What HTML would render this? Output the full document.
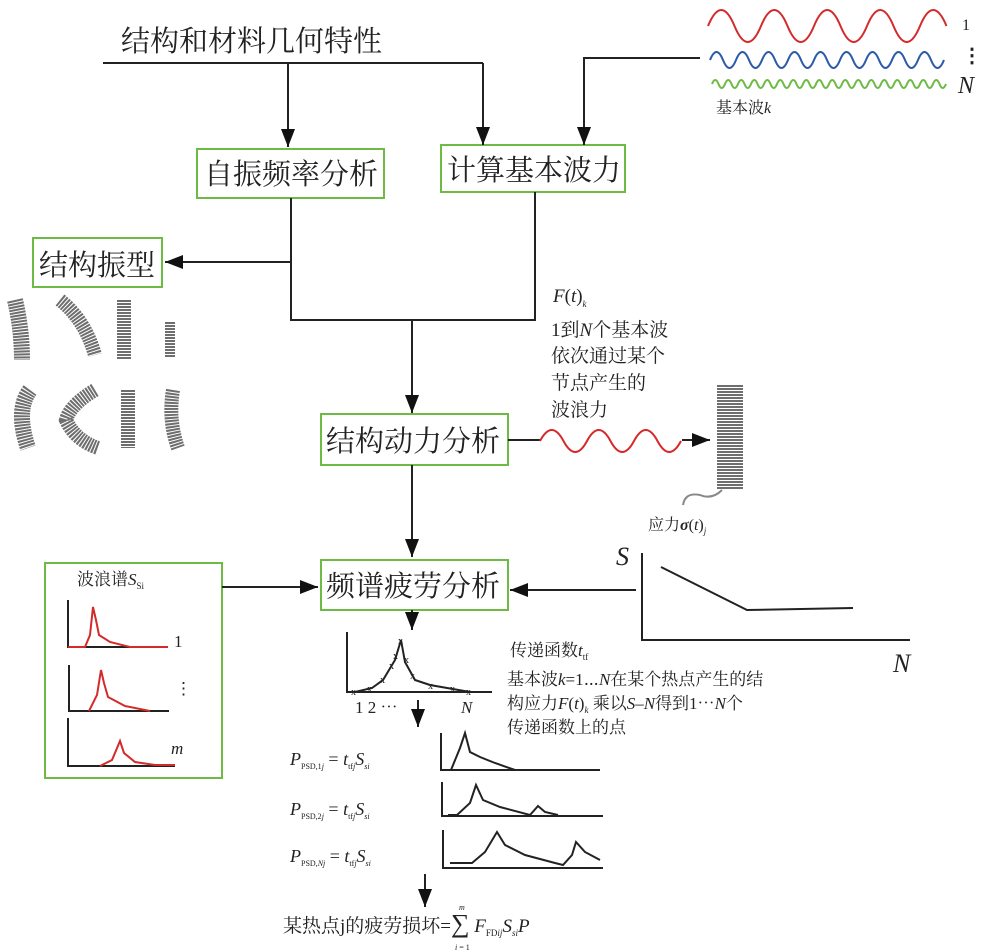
<!DOCTYPE html>
<html><head><meta charset="utf-8"><style>
html,body{margin:0;padding:0;background:#fff;}
svg{display:block;}
text{font-family:"Liberation Serif","Noto Serif CJK SC",serif;fill:#222;}
</style></head><body>
<svg width="984" height="952" viewBox="0 0 984 952" xmlns="http://www.w3.org/2000/svg">
<defs>
<marker id="b" markerWidth="20" markerHeight="14" refX="18" refY="7" orient="auto" markerUnits="userSpaceOnUse"><path d="M0,0 L18,7 L0,14 z" fill="#111"/></marker>
</defs>
<!-- boxes -->
<g fill="none" stroke="#6dbb45" stroke-width="2">
<rect x="197" y="149" width="187" height="49"/>
<rect x="441" y="145" width="184" height="47"/>
<rect x="33" y="238" width="129" height="49"/>
<rect x="321" y="414" width="187" height="51"/>
<rect x="321" y="560" width="187" height="50"/>
<rect x="45" y="563" width="177" height="215"/>
</g>
<g stroke="#222" stroke-width="2" fill="none">
<path d="M103,63 H483"/>
<path d="M288,63 V147" marker-end="url(#b)"/>
<path d="M483,63 V145" marker-end="url(#b)"/>
<path d="M700,58 H584 V145" marker-end="url(#b)"/>
<path d="M291,262 H165" marker-end="url(#b)"/>
<path d="M291,198 V320 H535 V192"/>
<path d="M412,320 V413" marker-end="url(#b)"/>
<path d="M508,440 H540"/>
<path d="M682,440 H710" marker-end="url(#b)"/>
<path d="M412,465 V557" marker-end="url(#b)"/>
<path d="M222,587 H318" marker-end="url(#b)"/>
<path d="M636,590 H510" marker-end="url(#b)"/>
<path d="M412,610 V630" marker-end="url(#b)"/>
<path d="M418,700 V727" marker-end="url(#b)"/>
<path d="M425,874 V907" marker-end="url(#b)"/>
<path d="M642,553 V640 H910"/>
<path d="M661,567 L747,610 L853,608"/>
<path d="M347,632 V692 H492"/>
<path d="M355,692 L372,688 L383,680 L395,660 L401,640 L405,662 L415,680 L430,685 L470,692"/>
<path d="M441,733 V770 H600"/>
<path d="M451,770 L460,748 L465,733 L470,752 L480,757 L495,763 L515,770"/>
<path d="M442,782 V816 H603"/>
<path d="M448,815 L457,815 L470,803 L476,785 L483,800 L500,807 L530,815 L538,806 L545,812 L558,815"/>
<path d="M443,830 V868 H603"/>
<path d="M450,863 L472,863 L485,852 L497,832 L505,845 L525,855 L555,863 L563,865 L572,855 L576,842 L585,852 L600,860"/>
<path d="M68,600 V647 H168"/>
<path d="M69,665 V711 H169"/>
<path d="M68,718 V766 H175"/>
</g>
<g fill="none" stroke="#d42a2a" stroke-width="2">
<path d="M68,647 L85,647 L90,635 L93,607 L96,620 L99,635 L110,642 L130,647 L168,647"/>
<path d="M89,711 L97,695 L101,670 L104,683 L108,697 L125,706 L150,711"/>
<path d="M100,766 L112,760 L120,741 L124,753 L135,762 L155,765 L175,765"/>
<path d="M708,26 q13.25,-32 26.5,0 t26.5,0 t26.5,0 t26.5,0 t26.5,0 t26.5,0 t26.5,0 t26.5,0 t26.5,0"/>
<path d="M540,441 q11.75,-22 23.5,0 t23.5,0 t23.5,0 t23.5,0 t23.5,0 t23.5,0"/>
</g>
<path d="M710,60 q6.5,-16 13,0 t13,0 t13,0 t13,0 t13,0 t13,0 t13,0 t13,0 t13,0 t13,0 t13,0 t13,0 t13,0 t13,0 t13,0 t13,0 t13,0 t13,0" fill="none" stroke="#2a5aa8" stroke-width="2"/>
<path d="M712,84 q3.25,-8 6.5,0 t6.5,0 t6.5,0 t6.5,0 t6.5,0 t6.5,0 t6.5,0 t6.5,0 t6.5,0 t6.5,0 t6.5,0 t6.5,0 t6.5,0 t6.5,0 t6.5,0 t6.5,0 t6.5,0 t6.5,0 t6.5,0 t6.5,0 t6.5,0 t6.5,0 t6.5,0 t6.5,0 t6.5,0 t6.5,0 t6.5,0 t6.5,0 t6.5,0 t6.5,0 t6.5,0 t6.5,0 t6.5,0 t6.5,0 t6.5,0 t6.5,0" fill="none" stroke="#6dbb45" stroke-width="2"/>
<g font-size="10" font-family="Liberation Sans,sans-serif">
<text x="351" y="695" fill="#d42a2a">x</text><text x="367" y="692" fill="#d42a2a">x</text><text x="380" y="683" fill="#d42a2a">x</text><text x="389" y="669" fill="#d42a2a">x</text><text x="393" y="659" fill="#d42a2a">x</text><text x="398" y="644" fill="#d42a2a">x</text><text x="404" y="663" fill="#d42a2a">x</text><text x="410" y="679" fill="#d42a2a">x</text><text x="428" y="689" fill="#d42a2a">x</text><text x="450" y="692" fill="#d42a2a">x</text><text x="466" y="695" fill="#d42a2a">x</text>
</g>
<g font-size="29">
<text x="121" y="51">结构和材料几何特性</text>
<text x="204" y="184">自振频率分析</text>
<text x="447" y="180">计算基本波力</text>
<text x="39" y="275">结构振型</text>
<text x="326" y="451">结构动力分析</text>
<text x="326" y="596">频谱疲劳分析</text>
</g>
<g font-size="19">
<text x="553" y="302"><tspan font-style="italic">F</tspan>(<tspan font-style="italic">t</tspan>)<tspan font-size="9" dy="5" font-style="italic">k</tspan></text>
<text x="551" y="336">1到<tspan font-style="italic">N</tspan>个基本波</text>
<text x="551" y="362">依次通过某个</text>
<text x="551" y="389">节点产生的</text>
<text x="551" y="416">波浪力</text>
<text x="510" y="656" font-size="17">传递函数<tspan font-style="italic">t</tspan><tspan font-size="9" dy="4">tf</tspan></text>
<text x="507" y="685" font-size="17">基本波<tspan font-style="italic">k</tspan>=1⋯<tspan font-style="italic">N</tspan>在某个热点产生的结</text>
<text x="507" y="709" font-size="17">构应力<tspan font-style="italic">F</tspan>(<tspan font-style="italic">t</tspan>)<tspan font-size="9" dy="4" font-style="italic">k</tspan><tspan dy="-4"> 乘以</tspan><tspan font-style="italic">S</tspan>–<tspan font-style="italic">N</tspan>得到1⋯<tspan font-style="italic">N</tspan>个</text>
<text x="507" y="733" font-size="17">传递函数上的点</text>
<text x="716" y="113" font-size="16">基本波<tspan font-style="italic">k</tspan></text>
<text x="962" y="30" font-size="16">1</text>
<text x="962" y="62" font-size="20" font-weight="bold">⋮</text>
<text x="958" y="93" font-size="24" font-style="italic">N</text>
<text x="648" y="530" font-size="16">应力<tspan font-style="italic" font-weight="bold">σ</tspan>(<tspan font-style="italic">t</tspan>)<tspan font-size="9" dy="4" font-style="italic">j</tspan></text>
<text x="616" y="565" font-size="26" font-style="italic">S</text>
<text x="893" y="672" font-size="26" font-style="italic">N</text>
<text x="77" y="585" font-size="17">波浪谱<tspan font-style="italic">S</tspan><tspan font-size="9" dy="4">Si</tspan></text>
<text x="174" y="647" font-size="17">1</text>
<text x="175" y="694" font-size="17">⋮</text>
<text x="171" y="754" font-size="17" font-style="italic">m</text>
<text x="355" y="713" font-size="17">1 2 ⋯</text>
<text x="461" y="713" font-size="17" font-style="italic">N</text>
<text x="290" y="765" font-size="18"><tspan font-style="italic">P</tspan><tspan font-size="8" dy="4">PSD,1<tspan font-style="italic">j</tspan></tspan><tspan dy="-4"> = </tspan><tspan font-style="italic">t</tspan><tspan font-size="8" dy="4">tf<tspan font-style="italic">j</tspan></tspan><tspan dy="-4" font-style="italic">S</tspan><tspan font-size="8" dy="4" font-style="italic">si</tspan></text>
<text x="290" y="815" font-size="18"><tspan font-style="italic">P</tspan><tspan font-size="8" dy="4">PSD,2<tspan font-style="italic">j</tspan></tspan><tspan dy="-4"> = </tspan><tspan font-style="italic">t</tspan><tspan font-size="8" dy="4">tf<tspan font-style="italic">j</tspan></tspan><tspan dy="-4" font-style="italic">S</tspan><tspan font-size="8" dy="4" font-style="italic">si</tspan></text>
<text x="290" y="862" font-size="18"><tspan font-style="italic">P</tspan><tspan font-size="8" dy="4">PSD,<tspan font-style="italic">Nj</tspan></tspan><tspan dy="-4"> = </tspan><tspan font-style="italic">t</tspan><tspan font-size="8" dy="4">tf<tspan font-style="italic">j</tspan></tspan><tspan dy="-4" font-style="italic">S</tspan><tspan font-size="8" dy="4" font-style="italic">si</tspan></text>
<text x="283" y="932" font-size="19">某热点j的疲劳损坏=<tspan font-size="26">∑</tspan><tspan font-style="italic"> F</tspan><tspan font-size="9" dy="4">FD<tspan font-style="italic">ij</tspan></tspan><tspan dy="-4" font-style="italic">S</tspan><tspan font-size="9" dy="4" font-style="italic">si</tspan><tspan dy="-4" font-style="italic">P</tspan></text>
<text x="459" y="910" font-size="8" font-style="italic">m</text>
<text x="455" y="950" font-size="8"><tspan font-style="italic">i</tspan> = 1</text>
</g>
<g fill="none" stroke="#555" stroke-dasharray="2,1" opacity="0.85">
<path d="M15,300 Q22,330 22,360" stroke-width="16"/>
<path d="M60,300 Q85,320 95,355" stroke-width="14"/>
<path d="M124,300 L124,360" stroke-width="14"/>
<path d="M170,322 L170,357" stroke-width="10"/>
<path d="M30,390 Q15,410 28,448" stroke-width="16"/>
<path d="M95,390 Q70,405 66,420 Q75,440 98,448" stroke-width="14"/>
<path d="M128,390 L128,448" stroke-width="14"/>
<path d="M173,390 Q168,420 178,448" stroke-width="14"/>
<path d="M730,385 L730,490" stroke-width="26"/>
</g>
<path d="M722,490 Q712,500 700,495 Q685,492 683,505" fill="none" stroke="#888" stroke-width="2"/>
</svg>
</body></html>
